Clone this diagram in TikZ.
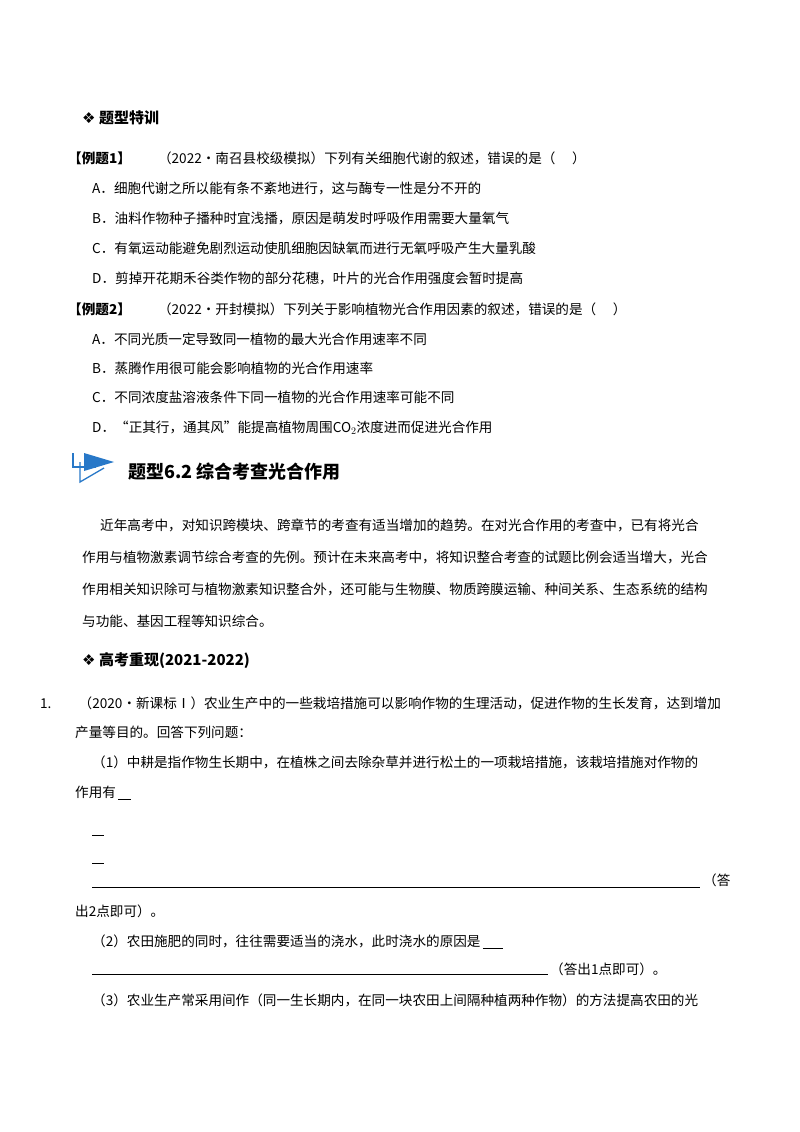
\documentclass[tikz,border=0pt]{standalone}
\usepackage{fontspec}
\setmainfont{Liberation Serif}
\newfontfamily\cjk{Noto Sans CJK SC}
\newfontfamily\sym{DejaVu Sans}
\begin{document}
\begin{tikzpicture}[x=1pt,y=-1pt,
 t/.style={anchor=base west,inner sep=0pt,font=\fontsize{13.6}{13.6}\cjk},
 h/.style={anchor=base west,inner sep=0pt,font=\fontsize{15}{15}\cjk\bfseries}]
\useasboundingbox[fill=white] (0,0) rectangle (800,1132);
\node[h] (h1) at (82,123) {{\sym ❖}\ 题型特训};
\node[t] (e1) at (68,163) {\textbf{【例题1】}\qquad （2022•南召县校级模拟）下列有关细胞代谢的叙述，错误的是（\quad\ ）};
\node[t] (a1) at (92,193) {A．细胞代谢之所以能有条不紊地进行，这与酶专一性是分不开的};
\node[t] (b1) at (92,223) {B．油料作物种子播种时宜浅播，原因是萌发时呼吸作用需要大量氧气};
\node[t] (c1) at (92,253) {C．有氧运动能避免剧烈运动使肌细胞因缺氧而进行无氧呼吸产生大量乳酸};
\node[t] (d1) at (92,283) {D．剪掉开花期禾谷类作物的部分花穗，叶片的光合作用强度会暂时提高};
\node[t] (e2) at (68,314) {\textbf{【例题2】}\qquad （2022•开封模拟）下列关于影响植物光合作用因素的叙述，错误的是（\quad\ ）};
\node[t] (a2) at (92,344) {A．不同光质一定导致同一植物的最大光合作用速率不同};
\node[t] (b2) at (92,373) {B．蒸腾作用很可能会影响植物的光合作用速率};
\node[t] (c2) at (92,402) {C．不同浓度盐溶液条件下同一植物的光合作用速率可能不同};
\node[t] (d2) at (92,432) {D．“正其行，通其风”能提高植物周围CO$_2$浓度进而促进光合作用};
% banner icon
\definecolor{ib}{RGB}{40,120,200}
\draw[ib,line width=1.3pt] (73,453) -- (73,467) -- (96,467);
\draw[ib,line width=1.3pt] (80,462) -- (80,482) -- (104,468);
\fill[ib] (84,453) -- (114,462) -- (84,471) -- cycle;
\node[h,font=\fontsize{18}{18}\cjk\bfseries] (b) at (128,478) {题型\textit{6.2} 综合考查光合作用};
\node[t] (p1) at (100,530) {近年高考中，对知识跨模块、跨章节的考查有适当增加的趋势。在对光合作用的考查中，已有将光合};
\node[t] (p2) at (82,562) {作用与植物激素调节综合考查的先例。预计在未来高考中，将知识整合考查的试题比例会适当增大，光合};
\node[t] (p3) at (82,594) {作用相关知识除可与植物激素知识整合外，还可能与生物膜、物质跨膜运输、种间关系、生态系统的结构};
\node[t] (p4) at (82,626) {与功能、基因工程等知识综合。};
\node[h] (h2) at (82,665) {{\sym ❖}\ 高考重现\textit{(2021-2022)}};
\node[t] (q1) at (40,708) {1.\qquad （2020•新课标Ⅰ）农业生产中的一些栽培措施可以影响作物的生理活动，促进作物的生长发育，达到增加};
\node[t] (q2) at (75,737) {产量等目的。回答下列问题：};
\node[t] (q3) at (92,767) {（1）中耕是指作物生长期中，在植株之间去除杂草并进行松土的一项栽培措施，该栽培措施对作物的};
\node[t] (q4) at (75,797) {作用有};
\draw ([xshift=2pt,yshift=-2pt]q4.base east) -- +(13,0);
\draw (92,835) -- (104,835);
\draw (92,863) -- (104,863);
\draw (92,887) -- (700,887);
\node[t] (q5) at (703,885) {（答};
\node[t] (q6) at (75,916) {出2点即可）。};
\node[t] (q7) at (92,946) {（2）农田施肥的同时，往往需要适当的浇水，此时浇水的原因是};
\draw ([xshift=2pt,yshift=-2pt]q7.base east) -- +(20,0);
\draw (92,974) -- (548,974);
\node[t] (q8) at (550,974) {（答出1点即可）。};
\node[t] (q9) at (92,1005) {（3）农业生产常采用间作（同一生长期内，在同一块农田上间隔种植两种作物）的方法提高农田的光};
\end{tikzpicture}
\end{document}
